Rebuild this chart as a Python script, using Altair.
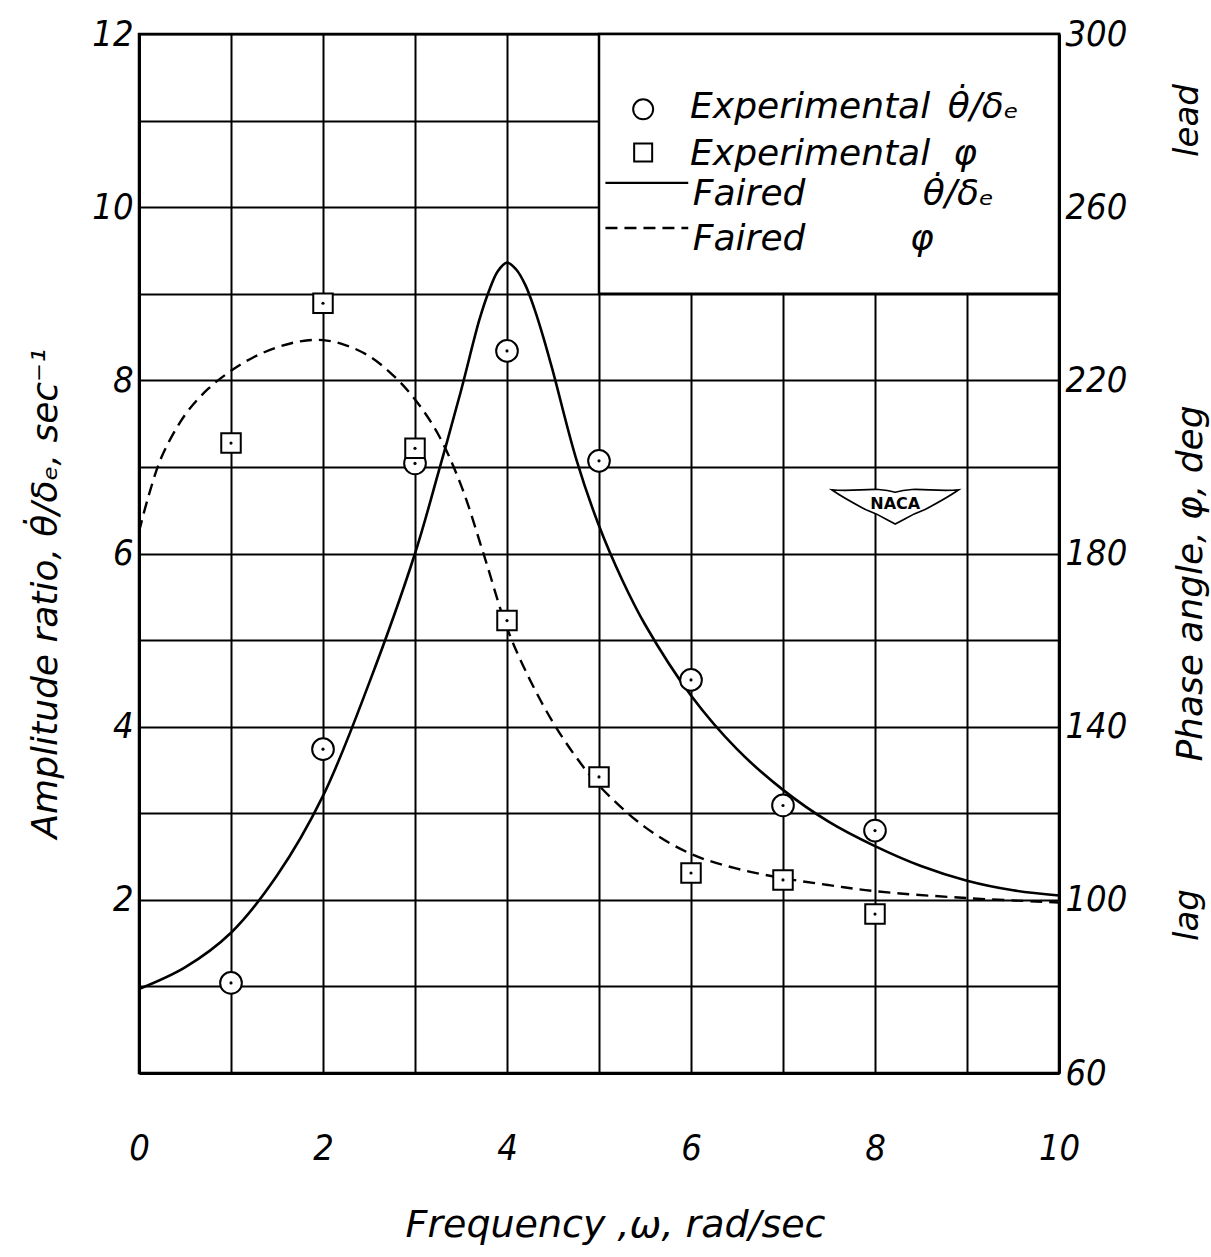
import altair as alt
import pandas as pd

FONT = "DejaVu Sans"
FONT_NUM = "DejaVu Sans Condensed, DejaVu Sans"

# Test frequencies, rad/sec
freq = [1, 2, 3, 4, 5, 6, 7, 8]
# Experimental amplitude ratio, sec^-1
amp_exp = [1.04, 3.74, 7.04, 8.34, 7.07, 4.54, 3.09, 2.80]
# Experimental phase angle, deg
phase_exp = [205.5, 237.8, 204.3, 164.5, 128.4, 106.2, 104.6, 96.7]

# Faired amplitude-ratio curve
amp_fair_freq = [0, 0.5, 1.0, 1.5, 2.0, 2.5, 3.0, 3.25, 3.5, 3.7, 3.8, 3.9, 4.0,
                 4.1, 4.2, 4.3, 4.4, 4.5, 4.75, 5.0, 5.25, 5.5, 6.0, 6.5, 7.0,
                 7.5, 8.0, 8.5, 9.0, 9.5, 10.0]
amp_fair = [0.97, 1.22, 1.62, 2.28, 3.2, 4.5, 6.0, 6.92, 7.88, 8.7, 9.02, 9.26, 9.36,
            9.28, 9.1, 8.82, 8.48, 8.1, 7.1, 6.32, 5.7, 5.18, 4.36, 3.74, 3.27,
            2.9, 2.62, 2.39, 2.22, 2.11, 2.05]

# Faired phase-angle curve
phase_fair_freq = [0, 0.1, 0.25, 0.5, 0.75, 1.0, 1.25, 1.5, 1.75, 2.0, 2.25, 2.5,
                   2.75, 3.0, 3.25, 3.5, 3.75, 4.0, 4.25, 4.5, 4.75, 5.0, 5.5, 6.0,
                   6.5, 7.0, 7.5, 8.0, 9.0, 10.0]
phase_fair = [185, 193, 202.5, 212, 218, 222.2, 225.4, 227.6, 229.0, 229.3, 228.1, 225.6,
              221.4, 215.6, 207.6, 195.8, 179.6, 162.8, 150.8, 141, 133, 126.4, 116.8, 110.6,
              107.2, 105.0, 103.4, 102.0, 100.4, 99.4]

x_ticks = list(range(0, 11))
amp_ticks = list(range(0, 13))
phase_ticks = [60, 100, 140, 180, 220, 260, 300]

exp_df = pd.DataFrame({"w": freq, "v": amp_exp, "p": phase_exp})
amp_fair_df = pd.DataFrame({"w": amp_fair_freq, "v": amp_fair})
phase_fair_df = pd.DataFrame({"w": phase_fair_freq, "p": phase_fair})

common_axis = dict(
    ticks=False,
    domainColor="black",
    domainWidth=3,
    labelColor="black",
    labelFont=FONT_NUM,
    labelFontStyle="italic",
    labelFontSize=36,
    titleColor="black",
    titleFont=FONT,
    titleFontStyle="italic",
    titleFontWeight="normal",
)

x_axis = alt.Axis(
    values=x_ticks,
    grid=True, gridColor="black", gridWidth=2, gridOpacity=1,
    labelExpr="datum.value % 2 == 0 ? datum.label : ''",
    labelPadding=58, labelFlush=False,
    title="Frequency ,ω, rad/sec", titleFontSize=38,
    titleX=476, titleY=152, titleAlign="center", titleBaseline="middle",
    **common_axis,
)
amp_axis = alt.Axis(
    orient="left", values=amp_ticks,
    grid=True, gridColor="black", gridWidth=2, gridOpacity=1,
    labelExpr="datum.value % 2 == 0 && datum.value > 0 ? datum.label : ''",
    labelPadding=6,
    title="Amplitude  ratio,  θ̇/δₑ,  sec⁻¹", titleFontSize=36,
    titleAngle=270, titleX=-94, titleY=559, titleAlign="center", titleBaseline="middle",
    **common_axis,
)
phase_axis = alt.Axis(
    orient="right", values=phase_ticks, grid=False,
    labelPadding=6, labelAlign="left",
    title="Phase  angle,  φ,  deg", titleFontSize=36,
    titleAngle=270, titleX=131, titleY=549, titleAlign="center", titleBaseline="middle",
    **common_axis,
)

x_enc = alt.X("w:Q", scale=alt.Scale(domain=[0, 10], nice=False, zero=False), axis=x_axis)
y_amp = alt.Y("v:Q", scale=alt.Scale(domain=[0, 12], nice=False, zero=False), axis=amp_axis)
y_ph = alt.Y("p:Q", scale=alt.Scale(domain=[60, 300], nice=False, zero=False), axis=phase_axis)

# --- legend box (upper right panel) ---
box = alt.Chart(pd.DataFrame({"w": [5], "w2": [10], "v": [9], "v2": [12]})).mark_rect(
    fill="white", stroke="black", strokeWidth=2.5
).encode(x=x_enc, x2="w2:Q", y=y_amp, y2="v2:Q")

legend_text = pd.DataFrame({
    "w": [5.99, 8.79, 5.99, 8.85, 6.02, 8.52, 6.02, 8.38],
    "v": [11.03, 11.03, 10.49, 10.49, 10.02, 10.02, 9.50, 9.50],
    "t": ["Experimental", "θ̇/δₑ", "Experimental", "φ", "Faired", "θ̇/δₑ", "Faired", "φ"],
})
legend_labels = alt.Chart(legend_text).mark_text(
    align="left", baseline="alphabetic", font=FONT, fontSize=36,
    fontStyle="italic", color="black"
).encode(x=x_enc, y=y_amp, text="t:N")

legend_circle = alt.Chart(pd.DataFrame({"w": [5.48], "v": [11.13]})).mark_point(
    shape="circle", filled=True, fill="white", stroke="black", strokeWidth=2,
    size=400, opacity=1
).encode(x=x_enc, y=y_amp)
legend_square = alt.Chart(pd.DataFrame({"w": [5.48], "v": [10.63]})).mark_point(
    shape="square", filled=True, fill="white", stroke="black", strokeWidth=2,
    size=324, opacity=1
).encode(x=x_enc, y=y_amp)
legend_solid = alt.Chart(pd.DataFrame({"w": [5.07], "w2": [5.97], "v": [10.28]})).mark_rule(
    color="black", strokeWidth=2.4
).encode(x=x_enc, x2="w2:Q", y=y_amp)
legend_dash = alt.Chart(pd.DataFrame({"w": [5.07], "w2": [5.97], "v": [9.76]})).mark_rule(
    color="black", strokeWidth=2.4, strokeDash=[12, 7]
).encode(x=x_enc, x2="w2:Q", y=y_amp)

# --- amplitude ratio (left scale) ---
amp_line = alt.Chart(amp_fair_df).mark_line(
    color="black", strokeWidth=2.6, interpolate="catmull-rom"
).encode(x=x_enc, y=y_amp)
amp_pts = alt.Chart(exp_df).mark_point(
    shape="circle", filled=True, fill="white", stroke="black", strokeWidth=2,
    size=470, opacity=1
).encode(x=x_enc, y=y_amp)
amp_dots = alt.Chart(exp_df).mark_point(
    shape="circle", filled=True, color="black", size=10, opacity=1
).encode(x=x_enc, y=y_amp)

# --- NACA emblem ---
WING = ("M-1,-0.24 C-0.6,-0.2 -0.3,-0.3 0,-0.2 C0.3,-0.3 0.6,-0.2 1,-0.24 "
        "C0.8,-0.1 0.6,0 0.45,0.08 L0.3,0.14 L0.15,0.22 L0,0.3 L-0.15,0.22 "
        "L-0.3,0.14 L-0.45,0.08 C-0.6,0 -0.8,-0.1 -1,-0.24 Z")
emblem_df = pd.DataFrame({"w": [8.22], "v": [6.56], "t": ["NACA"]})
emblem = alt.Chart(emblem_df).mark_point(
    shape=WING, filled=True, fill="white", stroke="black", strokeWidth=1.6,
    size=16129, opacity=1
).encode(x=x_enc, y=y_amp)
emblem_text = alt.Chart(emblem_df).mark_text(
    font=FONT, fontSize=16, fontWeight="bold", color="black", dy=-1
).encode(x=x_enc, y=y_amp, text="t:N")

left = alt.layer(
    box, legend_solid, legend_dash, legend_circle, legend_square, legend_labels,
    amp_line, amp_pts, amp_dots, emblem, emblem_text
)

# --- phase angle (right scale) ---
phase_line = alt.Chart(phase_fair_df).mark_line(
    color="black", strokeWidth=2.4, strokeDash=[12, 7], interpolate="catmull-rom"
).encode(x=x_enc, y=y_ph)
phase_pts = alt.Chart(exp_df).mark_point(
    shape="square", filled=True, fill="white", stroke="black", strokeWidth=2,
    size=380, opacity=1
).encode(x=x_enc, y=y_ph)
phase_dots = alt.Chart(exp_df).mark_point(
    shape="circle", filled=True, color="black", size=10, opacity=1
).encode(x=x_enc, y=y_ph)
lead_lag = alt.Chart(pd.DataFrame({"w": [11.4, 11.4], "p": [280, 96.5], "t": ["lead", "lag"]})).mark_text(
    angle=270, align="center", baseline="middle", font=FONT, fontSize=34,
    fontStyle="italic", color="black"
).encode(x=x_enc, y=y_ph, text="t:N")

right = alt.layer(phase_line, phase_pts, phase_dots, lead_lag)

chart = alt.layer(left, right).resolve_scale(y="independent").properties(
    width=920,
    height=1039,
    autosize=alt.AutoSizeParams(type="none"),
    padding={"left": 139, "top": 34, "right": 152, "bottom": 184},
    background="white",
).configure_view(stroke="black", strokeWidth=2.5)

chart.save("out.html", embed_options={"renderer": "svg", "actions": False})
